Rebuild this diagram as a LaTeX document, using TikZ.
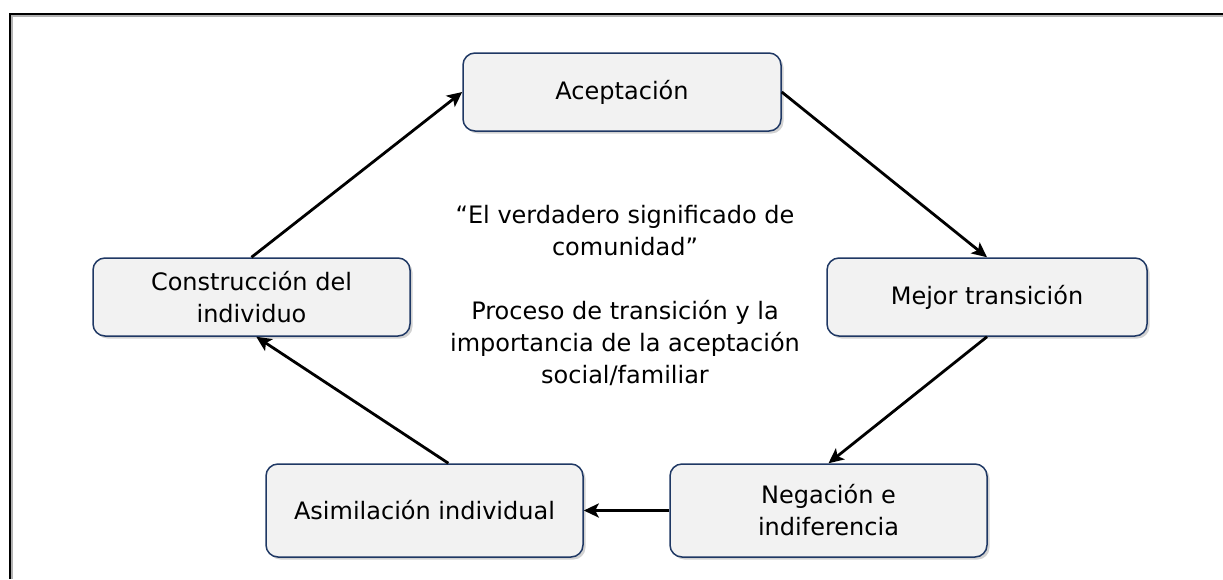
\documentclass[tikz,border=0pt]{standalone}
\usepackage{fontspec}
\setmainfont{DejaVu Sans}
\usetikzlibrary{arrows.meta,shadows,calc}
\definecolor{boxfill}{RGB}{242,242,242}
\definecolor{boxline}{RGB}{31,56,100}
\begin{document}
\begin{tikzpicture}[x=1pt,y=-1pt,
  stagebox/.style={draw=boxline, line width=1.5pt, fill=boxfill, rounded corners=12pt,
    align=center, inner sep=0pt, font=\fontsize{24}{32}\selectfont,
    drop shadow={shadow xshift=2.5pt, shadow yshift=-2.5pt, fill=black!35, opacity=0.5}},
  flow/.style={line width=2.8pt, -{Stealth[length=15pt,width=14pt,inset=3.5pt]}},
  frameline/.style={line width=2.5pt, black},
  frameshade/.style={line width=1.2pt, black!30},
]
\useasboundingbox (0,0) rectangle (1223,579);
% open frame (top and left)
\coordinate (ftr) at (1223,14);
\coordinate (ftl) at (10,14);
\coordinate (fbl) at (10,579);
\draw[frameshade] ($(ftr)+(0,2)$) -- ($(ftl)+(2,2)$) -- ($(fbl)+(2,0)$);
\draw[frameline] (ftr) -- (ftl) -- (fbl);

% stages
\node[stagebox, minimum width=318pt, minimum height=78pt] (acc) at (622,92) {Aceptación};
\node[stagebox, minimum width=320pt, minimum height=78pt] (mej) at (987,297) {Mejor transición};
\node[stagebox, minimum width=317pt, minimum height=93pt] (neg) at (828.5,510.5) {Negación e\\indiferencia};
\node[stagebox, minimum width=317pt, minimum height=93pt] (asi) at (424.5,510.5) {Asimilación individual};
\node[stagebox, minimum width=317pt, minimum height=78pt] (con) at (251.5,297) {Construcción del\\individuo};

% centre text
\node[align=center, inner sep=0pt, font=\fontsize{24}{32}\selectfont] (mid) at (625,295)
  {“El verdadero significado de\\comunidad”\\[32pt]Proceso de transición y la\\importancia de la aceptación\\social/familiar};

% connectors
\draw[flow] (con.north) -- (acc.west);
\draw[flow] (acc.east) -- (mej.north);
\draw[flow] (mej.south) -- (neg.north);
\draw[flow] (neg.west) -- (asi.east);
\draw[flow] ($(asi.north west)!0.575!(asi.north east)$) -- ($(con.south west)!0.515!(con.south east)$);
\end{tikzpicture}
\end{document}
